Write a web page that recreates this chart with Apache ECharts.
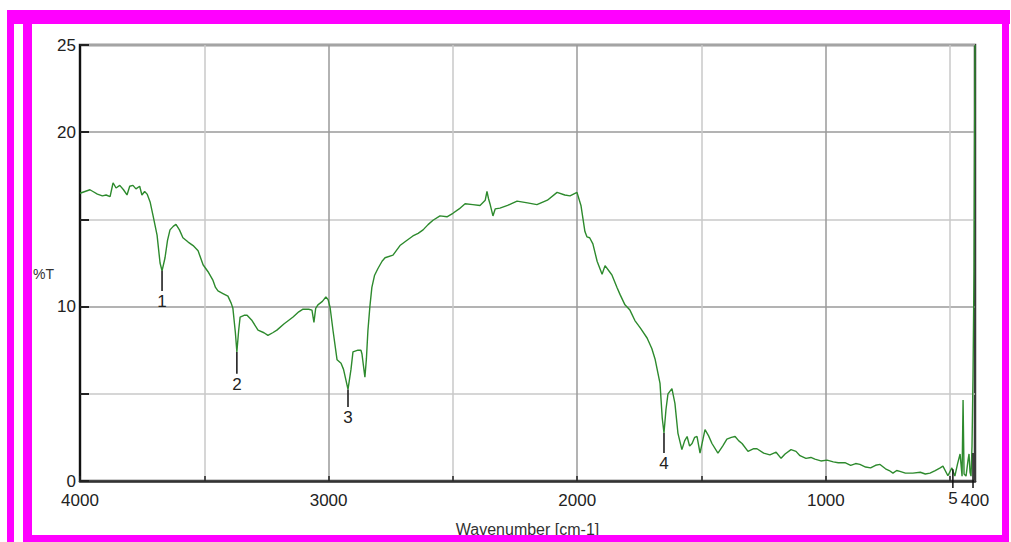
<!DOCTYPE html>
<html>
<head>
<meta charset="utf-8">
<script src="https://cdn.jsdelivr.net/npm/echarts@6/dist/echarts.min.js"></script>
<style>
  html, body { margin: 0; padding: 0; background: #fff; }
  #chart { width: 1011px; height: 542px; }
</style>
</head>
<body>
<div id="chart"></div>
<script>
// ---- data ----
const wavenumbers = [
  4000,3980,3960,3948,3930,3910,3895,3879,3870,3867,3855,3840,3825,3811,3800,3787,3775,3760,3751,3740,
  3730,3718,3706,3690,3678,3670,3658,3648,3638,3625,3614,3600,3586,3565,3545,3525,3515,3505,3485,3465,
  3455,3445,3425,3405,3392,3385,3375,3369,3362,3356,3340,3328,3308,3284,3260,3244,3225,3208,3180,3143,
  3120,3103,3080,3067,3059,3052,3043,3025,3011,3002,2994,2982,2966,2950,2940,2922,2910,2902,2882,2870,
  2866,2854,2848,2842,2834,2826,2815,2801,2785,2773,2741,2713,2690,2661,2640,2620,2600,2580,2552,2524,
  2500,2475,2451,2420,2391,2370,2363,2357,2351,2339,2330,2311,2280,2242,2200,2162,2120,2081,2050,2029,
  2001,1985,1969,1961,1950,1937,1920,1900,1888,1870,1860,1840,1828,1808,1788,1768,1745,1719,1700,1687,
  1667,1658,1651,1643,1635,1619,1607,1595,1579,1568,1558,1548,1538,1528,1518,1506,1486,1472,1458,1434,
  1415,1398,1380,1365,1350,1337,1313,1290,1277,1250,1225,1200,1180,1164,1140,1120,1104,1080,1060,1044,
  1020,995,970,950,923,900,880,863,840,820,800,782,760,745,730,715,702,680,650,620,
  600,581,560,540,529,509,493,481,470,460,452,448,444,436,428,424,420,416,412,408,
  404,400
];
const transmittance = [
  16.5,16.6,16.7,16.6,16.45,16.35,16.4,16.3,16.9,17.1,16.8,16.95,16.7,16.4,16.9,16.95,16.75,16.9,16.4,16.6,
  16.45,16.0,15.2,14.1,12.5,12.05,12.8,13.8,14.4,14.6,14.72,14.4,13.95,13.7,13.5,13.2,12.8,12.4,12.0,11.5,
  11.1,10.9,10.75,10.6,10.2,9.9,8.5,7.4,8.6,9.4,9.5,9.5,9.2,8.65,8.5,8.35,8.5,8.65,9.0,9.4,
  9.7,9.85,9.85,9.8,9.1,9.9,10.1,10.3,10.55,10.4,9.95,8.6,6.95,6.75,6.4,5.25,6.4,7.4,7.5,7.5,
  7.3,5.95,7.0,8.6,10.0,11.1,11.8,12.2,12.6,12.8,12.95,13.5,13.75,14.05,14.2,14.4,14.7,14.95,15.2,15.15,
  15.35,15.6,15.9,15.85,15.8,16.1,16.6,16.2,15.9,15.2,15.6,15.65,15.8,16.05,15.95,15.85,16.1,16.55,16.4,16.35,
  16.55,15.8,14.3,14.0,13.95,13.6,12.6,11.85,12.35,12.0,11.8,11.1,10.7,10.1,9.8,9.2,8.75,8.2,7.6,7.0,
  5.6,3.6,2.75,4.1,5.0,5.3,4.45,2.75,1.8,2.3,2.55,2.0,2.15,2.5,2.55,1.6,2.95,2.6,2.15,1.6,
  2.0,2.4,2.5,2.55,2.3,2.15,1.7,1.85,1.85,1.6,1.5,1.65,1.3,1.55,1.8,1.7,1.45,1.3,1.35,1.25,
  1.15,1.2,1.1,1.05,1.05,0.9,1.0,0.95,0.8,0.75,0.9,0.95,0.7,0.6,0.45,0.6,0.55,0.45,0.45,0.5,
  0.4,0.45,0.6,0.75,0.85,0.3,0.75,0.28,1.0,1.55,0.28,4.65,0.4,0.28,1.2,1.55,0.5,0.28,2.0,6.0,
  12,25
];
// peak markers: position, top of marker line (curve minimum), bottom of marker line, label
const peakWavenumbers = [3670, 3369, 2922, 1651, 489, 408];
const peakTop = [12.05, 7.4, 5.25, 2.75, 0.68, 1.6];
const peakBottom = [10.9, 6.15, 4.25, 1.6, -0.4, -0.4];
const peakLabels = ['1', '2', '3', '4', '5', ''];
// axis ticks / labels
const xLabelValues = [4000, 3000, 2000, 1000, 400];
const xTickValues = [4000, 3500, 3000, 2500, 2000, 1500, 1000, 500];
const yHiddenLabels = [5, 15];
const xTitle = 'Wavenumber [cm-1]';
const yTitle = '%T';

// ---- chart ----
const FONT = '"Liberation Sans", Arial, sans-serif';
const chart = echarts.init(document.getElementById('chart'), null, { renderer: 'svg' });

const lineData = wavenumbers.map((w, i) => [w, transmittance[i]]);
const peakData = peakWavenumbers.map((w, i) => [w, peakTop[i], peakBottom[i]]);

const option = {
  animation: false,
  backgroundColor: '#ffffff',
  grid: {
    left: 80, right: 36, top: 45, bottom: 57,
    show: true, borderColor: '#3a3a3a', borderWidth: 2.5, backgroundColor: 'transparent'
  },
  xAxis: {
    type: 'value', inverse: true, min: 400, max: 4000,
    name: xTitle, nameLocation: 'middle', nameGap: 40, nameMoveOverlap: false,
    nameTextStyle: { fontFamily: FONT, fontSize: 16, color: '#333' },
    axisLine: { show: true, lineStyle: { color: '#333', width: 2.5 } },
    axisTick: { show: true, inside: true, length: 5, customValues: xTickValues,
      lineStyle: { color: '#222', width: 1.5 } },
    axisLabel: { customValues: xLabelValues, margin: 11, fontFamily: FONT, fontSize: 17, color: '#222',
      showMinLabel: true, showMaxLabel: true, formatter: v => String(v) },
    splitLine: { show: true, lineStyle: { color: ['#9a9a9a', '#c8c8c8'], width: 1.5 } }
  },
  yAxis: {
    type: 'value', min: 0, max: 25, interval: 5,
    name: yTitle, nameLocation: 'middle', nameGap: 26, nameRotate: 0, nameMoveOverlap: false,
    nameTextStyle: { fontFamily: FONT, fontSize: 14, color: '#333', verticalAlign: 'top', padding: [4, 0, 0, 0] },
    axisLine: { show: true, lineStyle: { color: '#111', width: 2 } },
    axisTick: { show: true, inside: true, length: 9, lineStyle: { color: '#222', width: 2 } },
    axisLabel: { margin: 4, fontFamily: FONT, fontSize: 17, color: '#222',
      formatter: v => (yHiddenLabels.indexOf(v) >= 0 ? '' : String(v)) },
    splitLine: { show: true, lineStyle: { color: ['#9a9a9a', '#c8c8c8'], width: 1.5 } }
  },
  series: [
    {
      type: 'line', data: lineData, showSymbol: false, symbol: 'none',
      lineStyle: { color: '#2d8a2d', width: 1.4 }, z: 3
    },
    {
      type: 'custom', data: peakData, clip: false, z: 4,
      renderItem: function (params, api) {
        const p1 = api.coord([api.value(0), api.value(1)]);
        const p2 = api.coord([api.value(0), api.value(2)]);
        return {
          type: 'group',
          children: [
            { type: 'line', shape: { x1: p1[0], y1: p1[1], x2: p2[0], y2: p2[1] },
              style: { stroke: '#111', lineWidth: 1.5 } },
            { type: 'text', style: { text: peakLabels[params.dataIndex], x: p2[0], y: p2[1] + 2,
              align: 'center', verticalAlign: 'top', fontFamily: FONT, fontSize: 17, fill: '#222' } }
          ]
        };
      }
    }
  ],
  graphic: [
    { type: 'rect', z: 100, shape: { x: 7, y: 10, width: 1003, height: 14 }, style: { fill: '#ff00ff' } },
    { type: 'rect', z: 100, shape: { x: 7, y: 10, width: 7, height: 532 }, style: { fill: '#ff00ff' } },
    { type: 'rect', z: 100, shape: { x: 23, y: 10, width: 9, height: 532 }, style: { fill: '#ff00ff' } },
    { type: 'rect', z: 100, shape: { x: 1002, y: 10, width: 7, height: 525 }, style: { fill: '#ff00ff' } },
    { type: 'rect', z: 100, shape: { x: 23, y: 535, width: 986, height: 7 }, style: { fill: '#ff00ff' } }
  ]
};
chart.setOption(option);
</script>
</body>
</html>
